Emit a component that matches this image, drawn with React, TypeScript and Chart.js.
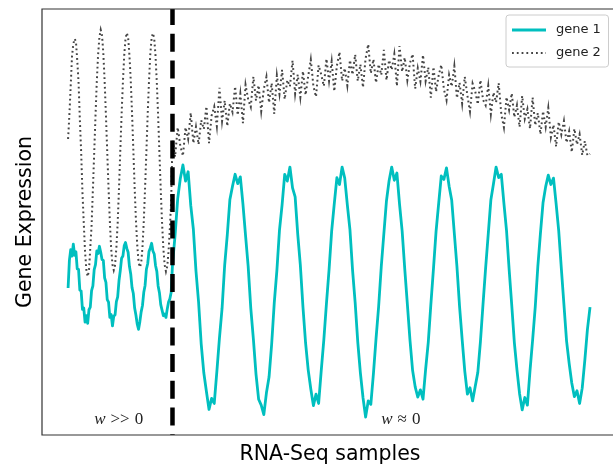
import React, { useEffect, useRef } from 'react';
import { Chart, registerables } from 'chart.js';

Chart.register(...registerables);

// Sample positions: dense sampling in the first regime, regular afterwards
const LEFT_SAMPLES = Array.from({ length: 80 }, (_, i) => i * 0.25);
const RIGHT_SAMPLES = Array.from({ length: 161 }, (_, i) => 20 + i * 0.5);
const SAMPLES = [...LEFT_SAMPLES, ...RIGHT_SAMPLES];
const SPLIT_SAMPLE = 20;

const X_MIN = -5;
const X_MAX = 104.4;
const Y_MIN = 0;
const Y_MAX = 100;

const SERIES_LABELS = ['gene 1', 'gene 2'];
const X_TITLE = 'RNA-Seq samples';
const Y_TITLE = 'Gene Expression';
const REGION_LABELS = [
  { w: 'w', rel: '>>', val: '0', x: 5, y: 2.5 },
  { w: 'w', rel: '\u2248', val: '0', x: 60, y: 2.5 },
];

const GENE1_LEFT = [
  34.5, 41.0, 43.5, 42.0, 44.8, 42.2, 43.0, 39.0, 38.9, 34.0,
  33.8, 29.5, 29.8, 26.5, 28.0, 26.2, 29.4, 30.0, 33.9, 35.0,
  38.8, 40.0, 43.2, 42.6, 44.3, 42.9, 41.2, 41.0, 36.9, 35.8,
  31.8, 31.2, 27.6, 28.3, 25.6, 27.9, 28.2, 31.3, 32.4, 36.2,
  38.6, 41.5, 42.0, 44.4, 45.2, 43.8, 42.9, 39.6, 37.8, 34.6,
  33.2, 29.8, 28.1, 26.0, 24.8, 26.6, 28.9, 30.4, 33.5, 35.1,
  38.9, 40.2, 43.1, 43.9, 45.0, 43.2, 42.5, 39.8, 38.4, 35.0,
  33.4, 30.6, 29.3, 28.0, 28.4, 27.6, 29.6, 31.2, 32.0, 33.5,
];

const GENE1_RIGHT = [
  40.0, 47.0, 55.5, 60.2,
  63.4, 59.6, 61.8, 53.9, 48.3, 38.5, 31.2, 21.4, 14.6, 10.2, 6.0, 8.6, 7.4, 14.9, 22.8, 29.7, 39.9, 47.0, 55.3, 58.4,
  61.2, 59.0, 60.6, 54.2, 46.8, 39.6, 29.8, 22.5, 14.3, 8.4, 7.0, 4.8, 9.9, 13.6, 21.3, 31.0, 38.6, 48.1, 54.0, 61.2,
  59.6, 62.9, 58.0, 55.9, 47.1, 39.8, 30.0, 21.6, 15.3, 10.8, 6.9, 9.6, 7.4, 15.1, 22.4, 30.9, 38.8, 47.9, 54.3, 60.4,
  58.8, 62.9, 60.3, 54.0, 48.2, 38.7, 31.1, 21.8, 14.6, 8.8, 4.2, 8.0, 7.2, 14.4, 22.6, 30.2, 39.5, 47.3, 55.0, 59.7,
  62.9, 59.8, 61.5, 54.2, 47.9, 39.0, 30.7, 22.3, 15.2, 11.3, 8.9, 10.6, 8.4, 15.4, 21.7, 30.6, 39.0, 47.8, 54.4, 60.8,
  60.0, 62.7, 58.4, 55.1, 47.3, 39.5, 30.2, 22.4, 15.0, 9.6, 11.1, 8.0, 11.4, 14.7, 21.9, 30.8, 39.3, 47.2, 55.2, 59.0,
  62.9, 60.4, 61.2, 54.4, 48.0, 38.9, 30.5, 21.7, 15.3, 9.7, 5.9, 8.8, 7.0, 15.1, 22.3, 30.0, 39.6, 47.4, 54.6, 58.3,
  61.0, 58.8, 60.3, 54.3, 47.9, 39.1, 30.6, 22.1, 16.8, 12.2, 9.0, 10.4, 7.4, 11.0, 17.5, 24.8, 30.0,
];

const GENE2_LEFT = [
  69.5, 75.2, 82.0, 88.9, 91.8, 93.0, 92.4, 88.0, 82.9, 74.1,
  66.5, 57.0, 49.8, 43.0, 38.8, 37.2, 38.6, 43.9, 49.2, 57.6,
  66.2, 74.9, 83.0, 89.3, 93.4, 95.1, 93.8, 89.6, 83.1, 75.0,
  66.4, 57.9, 50.1, 43.8, 40.0, 38.7, 39.9, 44.0, 49.8, 57.8,
  66.7, 75.3, 82.8, 89.0, 93.0, 94.4, 93.3, 89.2, 83.3, 75.6,
  66.9, 58.1, 50.4, 44.5, 40.6, 39.4, 40.3, 44.1, 50.2, 58.0,
  66.5, 75.4, 83.0, 89.4, 93.2, 94.3, 93.1, 89.0, 82.7, 74.8,
  66.2, 57.5, 49.9, 43.9, 39.9, 38.4, 39.6, 43.2, 48.6, 55.0,
];

const GENE2_RIGHT = [
  69.3, 65.3, 72.2, 67.9, 65.5, 72.2, 69.5, 75.6, 68.5, 72.3,
  68.2, 73.9, 71.8, 77.1, 68.5, 75.0, 77.1, 72.5, 81.5, 73.7,
  78.5, 72.5, 77.8, 75.8, 81.8, 75.1, 80.1, 73.2, 82.2, 78.8,
  77.0, 84.1, 78.5, 82.1, 76.0, 81.2, 84.1, 78.0, 82.6, 75.4,
  84.4, 80.0, 85.7, 78.8, 83.3, 81.8, 87.9, 80.1, 84.6, 79.3,
  85.4, 79.8, 84.2, 88.1, 81.9, 79.4, 86.8, 84.6, 81.9, 88.3,
  83.1, 87.7, 80.7, 86.7, 89.9, 83.1, 86.1, 82.0, 88.0, 84.6,
  89.3, 83.1, 87.0, 81.6, 88.4, 91.7, 84.9, 88.2, 82.7, 87.0,
  84.5, 90.4, 83.3, 88.0, 85.7, 89.4, 81.9, 91.3, 85.3, 88.6,
  83.3, 87.3, 89.4, 81.3, 86.1, 83.0, 89.2, 83.1, 86.3, 79.2,
  86.4, 80.6, 84.4, 86.9, 81.2, 78.6, 84.5, 81.8, 86.6, 79.1,
  82.7, 77.8, 84.1, 79.7, 75.9, 82.5, 80.7, 77.6, 83.3, 78.7,
  77.4, 82.0, 75.3, 80.4, 78.1, 82.6, 75.3, 72.2, 79.3, 76.3,
  80.2, 74.6, 77.4, 72.3, 79.6, 74.2, 76.5, 71.9, 79.2, 72.7,
  75.6, 70.6, 76.0, 72.3, 76.8, 69.9, 72.8, 67.7, 73.5, 70.5,
  73.7, 68.6, 71.3, 66.4, 71.9, 68.2, 70.6, 65.7, 69.0, 65.6,
  66.0,
];

const GENE1 = [...GENE1_LEFT, ...GENE1_RIGHT];
const GENE2 = [...GENE2_LEFT, ...GENE2_RIGHT];

const CYAN = '#00bfbf';
const GRAY = '#444444';
const GENE1_WIDTH = 2.8;
const GENE2_WIDTH = 2;
const GENE2_DASH = [1.8, 3];

const decorPlugin = {
  id: 'decor',
  afterDraw(chart: any) {
    const { ctx, chartArea: a, scales, width } = chart;
    const xs = scales.x;
    const ys = scales.y;
    ctx.save();

    // keep the far right strip clean (right spine lies beyond the view)
    ctx.fillStyle = '#ffffff';
    ctx.fillRect(width - 4, a.top + 2, 4, a.bottom - a.top - 4);

    // frame
    ctx.strokeStyle = '#333333';
    ctx.lineWidth = 1.2;
    ctx.setLineDash([]);
    ctx.beginPath();
    ctx.moveTo(width + 10, a.top);
    ctx.lineTo(a.left, a.top);
    ctx.lineTo(a.left, a.bottom);
    ctx.lineTo(width + 10, a.bottom);
    ctx.stroke();

    // region labels
    ctx.fillStyle = '#222222';
    ctx.textBaseline = 'alphabetic';
    ctx.textAlign = 'left';
    REGION_LABELS.forEach((lab) => {
      let px = xs.getPixelForValue(lab.x);
      const py = ys.getPixelForValue(lab.y);
      ctx.font = "italic 17px 'Liberation Serif', serif";
      ctx.fillText(lab.w, px, py);
      px += ctx.measureText(lab.w).width + 5;
      ctx.font = "17px 'Liberation Serif', serif";
      ctx.fillText(lab.rel, px, py);
      px += ctx.measureText(lab.rel).width + 5;
      ctx.fillText(lab.val, px, py);
    });

    // legend
    const bx = 506;
    const by = a.top + 6;
    const bw = 102.5;
    const bh = 52;
    ctx.beginPath();
    const r = 3;
    ctx.moveTo(bx + r, by);
    ctx.lineTo(bx + bw - r, by);
    ctx.arcTo(bx + bw, by, bx + bw, by + r, r);
    ctx.lineTo(bx + bw, by + bh - r);
    ctx.arcTo(bx + bw, by + bh, bx + bw - r, by + bh, r);
    ctx.lineTo(bx + r, by + bh);
    ctx.arcTo(bx, by + bh, bx, by + bh - r, r);
    ctx.lineTo(bx, by + r);
    ctx.arcTo(bx, by, bx + r, by, r);
    ctx.closePath();
    ctx.fillStyle = 'rgba(255,255,255,0.85)';
    ctx.fill();
    ctx.strokeStyle = '#cccccc';
    ctx.lineWidth = 1;
    ctx.stroke();

    const rows = [
      { color: CYAN, width: GENE1_WIDTH, dash: [] as number[] },
      { color: GRAY, width: GENE2_WIDTH, dash: GENE2_DASH },
    ];
    rows.forEach((row, i) => {
      const cy = by + 15 + i * 23;
      ctx.beginPath();
      ctx.setLineDash(row.dash);
      ctx.strokeStyle = row.color;
      ctx.lineWidth = row.width;
      ctx.moveTo(bx + 6, cy);
      ctx.lineTo(bx + 40, cy);
      ctx.stroke();
      ctx.setLineDash([]);
      ctx.fillStyle = '#222222';
      ctx.font = "13px 'DejaVu Sans', sans-serif";
      ctx.textBaseline = 'middle';
      ctx.textAlign = 'left';
      ctx.fillText(SERIES_LABELS[i], bx + 50, cy);
    });

    // axis titles
    ctx.fillStyle = '#000000';
    ctx.font = "20.5px 'DejaVu Sans', sans-serif";
    ctx.textAlign = 'center';
    ctx.textBaseline = 'alphabetic';
    ctx.fillText(X_TITLE, 330, a.bottom + 25);

    ctx.save();
    ctx.translate(31, (a.top + a.bottom) / 2);
    ctx.rotate(-Math.PI / 2);
    ctx.fillText(Y_TITLE, 0, 0);
    ctx.restore();

    ctx.restore();
  },
};

export default function App() {
  const canvasRef = useRef<HTMLCanvasElement | null>(null);

  useEffect(() => {
    const canvas = canvasRef.current;
    if (!canvas) return;
    const chart = new Chart(canvas, {
      type: 'line',
      data: {
        datasets: [
          {
            label: 'split',
            data: [
              { x: SPLIT_SAMPLE, y: Y_MAX },
              { x: SPLIT_SAMPLE, y: Y_MIN },
            ],
            borderColor: '#000000',
            borderWidth: 4.5,
            borderDash: [18, 8.7],
            borderDashOffset: 2,
            pointRadius: 0,
            order: 0,
          },
          {
            label: SERIES_LABELS[1],
            data: SAMPLES.map((x, i) => ({ x, y: GENE2[i] })),
            borderColor: GRAY,
            borderWidth: GENE2_WIDTH,
            borderDash: GENE2_DASH,
            pointRadius: 0,
            tension: 0,
            order: 1,
          },
          {
            label: SERIES_LABELS[0],
            data: SAMPLES.map((x, i) => ({ x, y: GENE1[i] })),
            borderColor: CYAN,
            borderWidth: GENE1_WIDTH,
            pointRadius: 0,
            tension: 0,
            borderJoinStyle: 'round',
            order: 2,
          },
        ],
      },
      options: {
        responsive: true,
        maintainAspectRatio: false,
        animation: false,
        layout: { padding: { left: 42, top: 9, right: 0, bottom: 30 } },
        scales: {
          x: { type: 'linear', min: X_MIN, max: X_MAX, display: false },
          y: { type: 'linear', min: Y_MIN, max: Y_MAX, display: false },
        },
        plugins: {
          legend: { display: false },
          tooltip: { enabled: false },
        },
      },
      plugins: [decorPlugin],
    } as any);
    return () => chart.destroy();
  }, []);

  return (
    <div
      style={{
        position: 'fixed',
        left: 0,
        top: 0,
        width: 613,
        height: 465,
        background: '#ffffff',
      }}
    >
      <canvas ref={canvasRef} />
    </div>
  );
}
